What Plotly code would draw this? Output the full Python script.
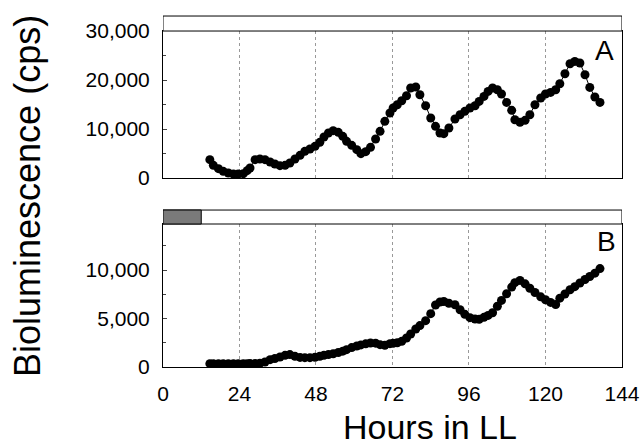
import plotly.graph_objects as go

hours = [14.7, 15.8, 17.4, 18.9, 20.5, 22.1, 23.6, 25.2, 26.4, 27.3, 28.9, 30.4, 32.0, 33.6, 35.1, 36.7,
         38.3, 39.8, 41.4, 43.0, 44.5, 46.1, 47.7, 49.2, 50.5, 51.9, 53.4, 55.0, 56.4, 57.6, 59.2, 60.8,
         62.1, 63.6, 65.1, 66.7, 68.1, 69.6, 71.2, 72.2, 73.5, 74.9, 76.4, 77.7, 79.3, 80.6, 82.4, 84.0,
         85.5, 86.9, 88.1, 89.7, 91.6, 93.2, 94.7, 96.3, 97.9, 99.2, 100.7, 102.0, 103.4, 104.9, 106.2,
         107.8, 109.4, 110.4, 112.0, 113.6, 115.1, 116.7, 118.5, 120.0, 121.6, 123.2, 124.5, 126.1,
         127.7, 129.2, 130.8, 132.4, 133.9, 135.5, 137.1]

cps_a = [3740, 2584, 1904, 1360, 1020, 816, 816, 884, 1496, 2040, 3740, 3876, 3740, 3264, 2856, 2516,
         2584, 3060, 3876, 4624, 5440, 5916, 6460, 7276, 8364, 9180, 9656, 9316, 8500, 7480, 6664, 5780,
         4964, 5372, 6256, 7956, 9520, 11560, 13260, 14280, 14960, 15776, 16796, 18360, 18564, 17000,
         14756, 12240, 10540, 9180, 9044, 10200, 12036, 12920, 13600, 14280, 14756, 15640, 16660, 17680,
         18360, 18020, 17136, 15436, 13804, 11900, 11356, 11764, 12920, 14960, 16320, 17136, 17476,
         18020, 19244, 21284, 23324, 23800, 23460, 21080, 18496, 16524, 15436]

cps_b = [340, 340, 340, 340, 340, 340, 340, 340, 345, 350, 360, 380, 520, 756, 880, 1030,
         1200, 1280, 1100, 990, 962, 962, 1010, 1110, 1210, 1280, 1370, 1490, 1630, 1790, 2000, 2170,
         2280, 2390, 2474, 2460, 2300, 2233, 2405, 2440, 2490, 2646, 2989, 3400, 3920, 4270, 4780, 5498,
         6400, 6700, 6760, 6570, 6425, 5910, 5429, 5090, 4940, 4930, 5120, 5320, 5600, 6270, 6872,
         7559, 8246, 8700, 8934, 8580, 8120, 7690, 7240, 6940, 6660, 6450, 7100, 7530,
         7972, 8290, 8660, 9030, 9330, 9680, 10150]

x_ticks = [0, 24, 48, 72, 96, 120, 144]
ya_ticks = [0, 10000, 20000, 30000]
yb_ticks = [0, 5000, 10000]
dark_end = 12  # hours of dark in bottom bar

FONT = "Liberation Sans, Arial, sans-serif"
XD = [0.2531, 0.9658]

fig = go.Figure()
mk = dict(color="black", size=9)
ln = dict(color="black", width=1)
fig.add_trace(go.Scatter(x=hours, y=cps_a, mode="lines+markers", marker=mk, line=ln,
                         xaxis="x", yaxis="y", showlegend=False))
fig.add_trace(go.Scatter(x=hours, y=cps_b, mode="lines+markers", marker=mk, line=ln,
                         xaxis="x2", yaxis="y2", showlegend=False))

common_x = dict(range=[0, 144], tickvals=x_ticks, showgrid=True, gridcolor="#999",
                griddash="dot", gridwidth=1, showline=True, linecolor="black", linewidth=1,
                mirror=True, zeroline=False, ticks="", domain=XD, automargin=False)
common_y = dict(tickformat=",d", tickfont=dict(size=21), ticks="inside", ticklen=4,
                showgrid=False, zeroline=False, showline=True, linecolor="black",
                mirror=True, ticklabelstandoff=8, automargin=False)
fig.update_layout(
    width=644, height=445, autosize=False,
    margin=dict(l=0, r=0, t=0, b=0),
    paper_bgcolor="white", plot_bgcolor="white",
    font=dict(family=FONT, color="black"),
    xaxis=dict(**common_x, anchor="y", showticklabels=False),
    xaxis2=dict(**common_x, anchor="y2", showticklabels=True,
                tickfont=dict(size=21), ticklabelstandoff=8),
    yaxis=dict(**common_y, domain=[0.6, 0.9303], range=[0, 30000], tickvals=ya_ticks,
               minor=dict(dtick=5000, ticks="inside", ticklen=3), anchor="x"),
    yaxis2=dict(**common_y, domain=[0.1753, 0.4966], range=[0, 14750], tickvals=yb_ticks,
                minor=dict(dtick=2500, ticks="inside", ticklen=3), anchor="x2"),
)

# light/dark bars
fig.add_shape(type="rect", xref="x", yref="paper", x0=0, x1=144, y0=0.9303, y1=0.964,
              fillcolor="white", line=dict(color="black", width=1))
fig.add_shape(type="rect", xref="x2", yref="paper", x0=0, x1=144, y0=0.4966, y1=0.528,
              fillcolor="white", line=dict(color="black", width=1))
fig.add_shape(type="rect", xref="x2", yref="paper", x0=0, x1=dark_end, y0=0.4966, y1=0.528,
              fillcolor="#7a7a7a", line=dict(color="black", width=1))

fig.add_annotation(text="A", x=604 / 644, y=1 - 50 / 445, xref="paper", yref="paper",
                   showarrow=False, font=dict(size=28), xanchor="center", yanchor="middle")
fig.add_annotation(text="B", x=606 / 644, y=1 - 242 / 445, xref="paper", yref="paper",
                   showarrow=False, font=dict(size=28), xanchor="center", yanchor="middle")
fig.add_annotation(text="Hours in LL", x=430 / 644, y=1 - 427 / 445, xref="paper", yref="paper",
                   showarrow=False, font=dict(size=34), xanchor="center", yanchor="middle")
fig.add_annotation(text="Bioluminescence (cps)", x=27 / 644, y=1 - 196 / 445, xref="paper",
                   yref="paper", showarrow=False, font=dict(size=36), textangle=-90,
                   xanchor="center", yanchor="middle")

fig.write_html("out.html", config={"displayModeBar": False},
               post_script="document.body.style.margin='0';")
